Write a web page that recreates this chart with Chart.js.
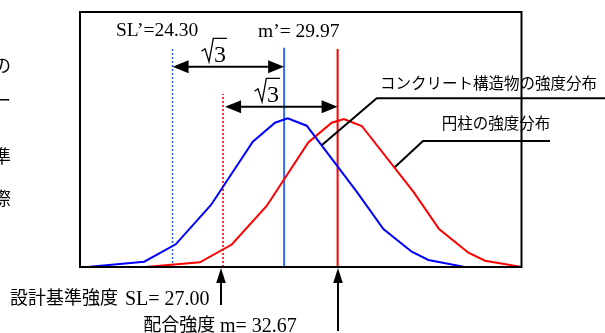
<!DOCTYPE html>
<html>
<head>
<meta charset="utf-8">
<script src="https://cdn.jsdelivr.net/npm/chart.js@4"></script>
<style>
  html, body { margin: 0; padding: 0; background: #fff; }
  canvas { display: block; }
</style>
</head>
<body>
<canvas id="c" width="605" height="333"></canvas>
<script>
// ---- data ----
// structure (blue) and cylinder (red) strength distributions
const blueX = [20.18, 22.92, 24.51, 26.29, 28.40, 29.52, 30.16, 31.12, 33.64, 34.99, 36.42, 37.26, 39.03];
const blueY = [0.03, 0.53, 2.27, 6.20, 12.53, 14.43, 14.87, 14.13, 7.53, 3.80, 1.53, 0.70, 0.03];
const redX  = [22.99, 25.73, 27.34, 29.10, 31.20, 32.38, 33.00, 33.90, 36.50, 37.80, 39.28, 40.12, 41.89];
const redY  = [0.00, 0.47, 2.25, 6.10, 12.45, 14.43, 14.80, 14.10, 7.53, 3.80, 1.43, 0.63, 0.03];

// vertical markers: SL', SL, m', m
const markX   = [24.35, 26.90, 29.98, 32.68];
const markTop = [22.00, 17.30, 21.93, 21.80];

// double arrows (height on y scale)
const arrowY = [20.03, 16.03];

const xRange = [19.68, 41.96];
const yRange = [0, 25.5];

const seriesNames = ['コンクリート構造物の強度分布', '円柱の強度分布'];
const topLabels = ['SL’=24.30', 'm’= 29.97'];
const bottomLabels = [['設計基準強度', 'SL= 27.00'], ['配合強度', 'm= 32.67']];
const sideChars = ['の', 'ー', '準', '際'];

const SERIF = '"Liberation Serif", "Times New Roman", serif';
const JP = '"Noto Sans CJK JP", "Noto Sans", sans-serif';

const pts = (xs, ys) => xs.map((v, i) => ({ x: v, y: ys[i] }));

function marker(i, color, dashed) {
  return {
    data: [{ x: markX[i], y: 0 }, { x: markX[i], y: markTop[i] }],
    borderColor: color,
    borderWidth: dashed ? 1.6 : 2,
    borderDash: dashed ? [2, 2] : [],
    pointRadius: 0
  };
}

function head(ctx, x, y, dx, dy, len, half) {
  // tip at (x,y), pointing along (dx,dy)
  const px = -dy, py = dx;
  ctx.beginPath();
  ctx.moveTo(x, y);
  ctx.lineTo(x - dx * len + px * half, y - dy * len + py * half);
  ctx.lineTo(x - dx * len - px * half, y - dy * len - py * half);
  ctx.closePath();
  ctx.fill();
}

function sqrt3(ctx, x0, top) {
  ctx.lineWidth = 1.3;
  ctx.beginPath();
  ctx.moveTo(x0, top + 13);
  ctx.lineTo(x0 + 3.5, top + 10.5);
  ctx.lineTo(x0 + 7.5, top + 23.5);
  ctx.lineTo(x0 + 11.8, top);
  ctx.lineTo(x0 + 25.5, top);
  ctx.stroke();
  ctx.font = '24px ' + SERIF;
  ctx.textBaseline = 'alphabetic';
  ctx.fillText('3', x0 + 12.5, top + 23.5);
}

const annotations = {
  id: 'annotations',
  afterDraw(chart) {
    const { ctx, chartArea: a, scales: { x, y } } = chart;
    ctx.save();
    ctx.strokeStyle = '#000';
    ctx.fillStyle = '#000';

    // frame
    ctx.lineWidth = 2;
    ctx.strokeRect(a.left, a.top, a.right - a.left, a.bottom - a.top);

    // double arrows with sqrt(3)
    const pairs = [[0, 2, 0], [1, 3, 2]];
    pairs.forEach(([i, j, off], k) => {
      const x1 = x.getPixelForValue(markX[i]) + off;
      const x2 = x.getPixelForValue(markX[j]);
      const ay = y.getPixelForValue(arrowY[k]);
      ctx.lineWidth = 2;
      ctx.beginPath();
      ctx.moveTo(x1 + 10, ay);
      ctx.lineTo(x2 - 10, ay);
      ctx.stroke();
      head(ctx, x1, ay, -1, 0, 16, 6.5);
      head(ctx, x2, ay, 1, 0, 16, 6.5);
      sqrt3(ctx, (x1 + x2) / 2 - 26.8, ay - 28.4);
    });

    // top labels
    ctx.font = '19.5px ' + SERIF;
    ctx.textBaseline = 'alphabetic';
    ctx.fillText(topLabels[0], 116, 36);
    ctx.fillText(topLabels[1], 258, 36.5);

    // leader lines + series names
    ctx.lineWidth = 2;
    ctx.beginPath();
    ctx.moveTo(605, 98.3);
    ctx.lineTo(376.7, 98.3);
    ctx.lineTo(322, 145);
    ctx.moveTo(550, 141);
    ctx.lineTo(423, 141);
    ctx.lineTo(395, 167);
    ctx.stroke();
    ctx.font = '15.5px ' + JP;
    ctx.textBaseline = 'middle';
    ctx.fillText(seriesNames[0], 380, 83);
    ctx.fillText(seriesNames[1], 441.7, 123.3);

    // bottom arrows and labels
    const up = [[221, 305], [338, 331]];
    up.forEach(([ux, uy]) => {
      ctx.lineWidth = 2;
      ctx.beginPath();
      ctx.moveTo(ux, uy);
      ctx.lineTo(ux, a.bottom + 10);
      ctx.stroke();
      head(ctx, ux, a.bottom + 1, 0, -1, 15, 4.8);
    });
    ctx.font = '18px ' + JP;
    ctx.textBaseline = 'middle';
    ctx.fillText(bottomLabels[0][0], 10, 297.5);
    ctx.fillText(bottomLabels[1][0], 143.3, 324.5);
    ctx.font = '20px ' + SERIF;
    ctx.textBaseline = 'alphabetic';
    ctx.fillText(bottomLabels[0][1], 125, 304.5);
    ctx.fillText(bottomLabels[1][1], 220, 331.5);

    // cut-off characters of the surrounding page
    ctx.font = '18px ' + JP;
    ctx.textBaseline = 'middle';
    [65, 100, 156, 198].forEach((cy, i) => ctx.fillText(sideChars[i], -7, cy));

    ctx.restore();
  }
};

new Chart(document.getElementById('c'), {
  type: 'line',
  data: {
    datasets: [
      { data: pts(blueX, blueY), borderColor: '#0000ff', borderWidth: 2, pointRadius: 0 },
      { data: pts(redX, redY), borderColor: '#ff0000', borderWidth: 2, pointRadius: 0 },
      marker(0, '#3366ff', true),
      marker(1, '#ff0000', true),
      marker(2, '#3366ff', false),
      marker(3, '#ff0000', false)
    ]
  },
  options: {
    responsive: false,
    animation: false,
    layout: { padding: { left: 80, top: 12, right: 83.5, bottom: 66 } },
    plugins: { legend: { display: false }, tooltip: { enabled: false } },
    elements: { line: { tension: 0 } },
    scales: {
      x: { type: 'linear', min: xRange[0], max: xRange[1], display: false },
      y: { min: yRange[0], max: yRange[1], display: false }
    }
  },
  plugins: [annotations]
});
</script>
</body>
</html>
